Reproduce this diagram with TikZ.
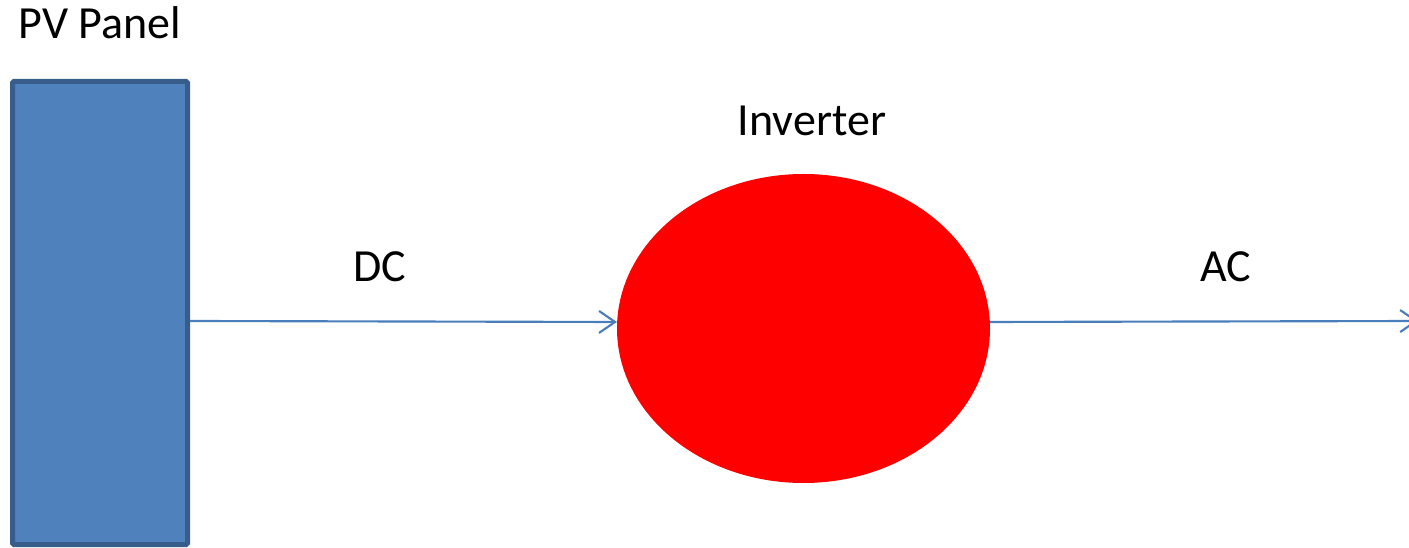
\documentclass[tikz,border=0pt]{standalone}
\usepackage{fontspec}
\setmainfont{Carlito}
\usetikzlibrary{arrows.meta,shapes.geometric}
\definecolor{panelblue}{HTML}{4F81BD}
\definecolor{paneledge}{HTML}{385D8A}
\definecolor{wireblue}{HTML}{4A7EBB}
\definecolor{inverterred}{HTML}{FF0000}

\begin{document}
\begin{tikzpicture}[
  x=0.75pt,
  y=-0.75pt,
  panelbox/.style={rectangle,fill=panelblue,draw=paneledge,line width=3.75pt,
    minimum width=131.25pt,minimum height=347.25pt,inner sep=0pt,rounded corners=1pt},
  invbody/.style={ellipse,fill=inverterred,draw=none,
    minimum width=279.75pt,minimum height=231.75pt,inner sep=0pt},
  flow/.style={draw=wireblue,line width=1.6pt,
    -{Straight Barb[length=12pt,width=16.5pt,line width=1.6pt]}},
  caption/.style={anchor=base,inner sep=0pt,font=\fontsize{34.5}{40}\selectfont}
]
  % Page frame in pixel units of the reference.
  \useasboundingbox (0,0) rectangle (1409,548);

  % Panel and inverter.
  \node[panelbox] (panel) at (100,313) {};
  \node[invbody] (inverter) at (803.5,328.5) {};

  % Labels.
  \node[caption] (pvlabel) at (100,39) {PV Panel};
  \node[caption] (invlabel) at (812,136) {Inverter};
  \node[caption] (dclabel) at (380,282) {DC};
  \node[caption] (aclabel) at (1226,282) {AC};

  % DC side and AC side wires.
  \coordinate (dcstart) at (190,321);
  \coordinate (acend) at (1418,321);
  \draw[flow] (dcstart) -- (inverter.178);
  \draw[flow] (inverter.2) -- (acend);
\end{tikzpicture}
\end{document}
